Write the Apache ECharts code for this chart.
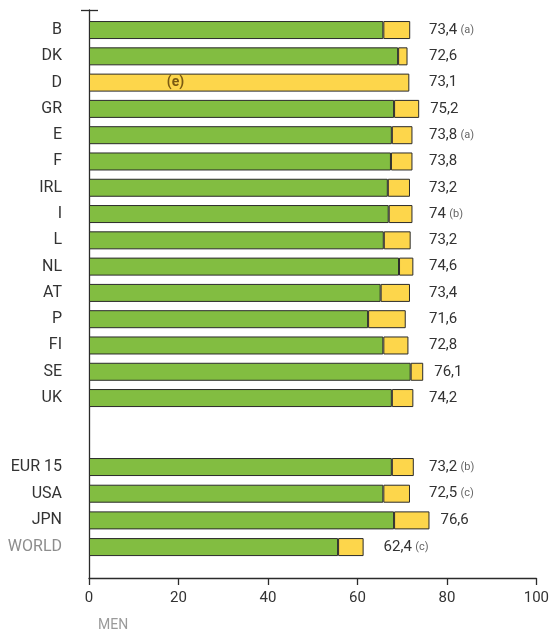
<!DOCTYPE html>
<html>
<head>
<meta charset="utf-8">
<script src="https://cdn.jsdelivr.net/npm/echarts@6/dist/echarts.min.js"></script>
<style>html,body{margin:0;padding:0;background:#fff}#c{width:552px;height:640px}</style>
</head>
<body>
<div id="c"></div>
<script>
// ---- data ----
const countries = ['B','DK','D','GR','E','F','IRL','I','L','NL','AT','P','FI','SE','UK'];
const countryGreen = [65.7, 69.0, '-', 68.1, 67.6, 67.4, 66.7, 66.9, 65.8, 69.2, 65.1, 62.3, 65.7, 71.8, 67.6];
const countryYellow = [6.0, 2.1, 71.5, 5.6, 4.6, 4.8, 4.95, 5.3, 6.0, 3.2, 6.55, 8.4, 5.6, 2.8, 4.8];
const countryTotals = ['73,4','72,6','73,1','75,2','73,8','73,8','73,2','74','73,2','74,6','73,4','71,6','72,8','76,1','74,2'];
const countryNotes = ['(a)','','','','(a)','','','(b)','','','','','','',''];
const regions = ['EUR 15','USA','JPN','WORLD'];
const regionGreen = [67.6, 65.7, 68.1, 55.6];
const regionYellow = [4.9, 5.95, 7.9, 5.7];
const regionTotals = ['73,2','72,5','76,6','62,4'];
const regionNotes = ['(b)','(c)','','(c)'];
const noteD = { category: 'D', x: 19.3, text: '(e)' };
const xMin = 0, xMax = 100, xInterval = 20;
const axisTitle = 'MEN';

// ---- layout ----
const L = 89, R = 15;
const gridW = 552 - L - R;
const ppu = gridW / (xMax - xMin);
const labelCol = 429;
const GREEN = '#82bd41', YELLOW = '#fdd64b', EDGE = '#2b2b2b', TXT = '#333';

function yellowItems(green, yellow, totals, notes) {
  return yellow.map((v, i) => {
    const g = green[i] === '-' ? 0 : green[i];
    const endPx = L + (g + v) * ppu;
    const dist = (g + v) < 65 ? 20 : Math.max(11, labelCol - endPx);
    return {
      value: v,
      label: {
        distance: dist,
        formatter: notes[i] ? '{v|' + totals[i] + '} {n|' + notes[i] + '}' : '{v|' + totals[i] + '}'
      }
    };
  });
}

const barCommon = {
  type: 'bar',
  barWidth: 18,
  itemStyle: { borderColor: EDGE, borderWidth: 1 },
  emphasis: { disabled: true },
  animation: false
};
const valLabel = {
  show: true, position: 'right',
  rich: {
    v: { fontSize: 15, color: TXT, fontFamily: 'Roboto' },
    n: { fontSize: 11, color: '#666', fontFamily: 'Roboto' }
  }
};
const catLabel = {
  fontSize: 16, fontFamily: 'Roboto', margin: 27,
  color: (v) => v === 'WORLD' ? '#8d8d8d' : TXT
};

const chart = echarts.init(document.getElementById('c'), null, { renderer: 'canvas' });
chart.setOption({
  animation: false,
  title: { text: axisTitle, left: 93, top: 613, textStyle: { fontSize: 14, fontWeight: 'normal', color: '#9a9a9a', fontFamily: 'Roboto' } },
  grid: [
    { left: L, right: R, top: 10, bottom: 62 },
    { left: L, width: gridW, top: 16.9, height: 394.3 },
    { left: L, width: gridW, top: 453.7, height: 106.7 }
  ],
  xAxis: [
    { gridIndex: 0, type: 'value', min: xMin, max: xMax, interval: xInterval,
      axisLine: { show: true, lineStyle: { color: EDGE, width: 1.3 } },
      axisTick: { show: true, length: 7, lineStyle: { color: EDGE, width: 1.3 } },
      axisLabel: { fontSize: 15, color: TXT, fontFamily: 'Roboto', margin: 13 },
      splitLine: { show: false } },
    { gridIndex: 1, type: 'value', min: xMin, max: xMax, show: false },
    { gridIndex: 2, type: 'value', min: xMin, max: xMax, show: false }
  ],
  yAxis: [
    { gridIndex: 0, type: 'value', position: 'left', min: 0, max: 1, interval: 1,
      axisLine: { show: true, lineStyle: { color: EDGE, width: 1.3 } },
      axisTick: { show: true, length: 8, customValues: [1], lineStyle: { color: EDGE, width: 1.3 } },
      axisLabel: { show: false }, splitLine: { show: false } },
    { gridIndex: 0, type: 'value', position: 'left', offset: 0, min: 0, max: 1, interval: 1,
      axisLine: { show: false },
      axisTick: { show: true, inside: true, length: 9, customValues: [1], lineStyle: { color: EDGE, width: 1.3 } },
      axisLabel: { show: false }, splitLine: { show: false } },
    { gridIndex: 1, type: 'category', data: countries, inverse: true,
      axisLine: { show: false }, axisTick: { show: false }, axisLabel: catLabel },
    { gridIndex: 2, type: 'category', data: regions, inverse: true,
      axisLine: { show: false }, axisTick: { show: false }, axisLabel: catLabel }
  ],
  series: [
    Object.assign({}, barCommon, { name: 'healthy', xAxisIndex: 1, yAxisIndex: 2, stack: 'a',
      data: countryGreen, itemStyle: Object.assign({}, barCommon.itemStyle, { color: GREEN }) }),
    Object.assign({}, barCommon, { name: 'rest', xAxisIndex: 1, yAxisIndex: 2, stack: 'a',
      data: yellowItems(countryGreen, countryYellow, countryTotals, countryNotes),
      itemStyle: Object.assign({}, barCommon.itemStyle, { color: YELLOW }),
      label: valLabel,
      markPoint: {
        symbol: 'circle', symbolSize: 1, itemStyle: { color: 'rgba(0,0,0,0)' },
        data: [{ coord: [noteD.x, noteD.category] }],
        label: { show: true, position: 'inside', formatter: noteD.text, fontSize: 14, fontWeight: 'bold', color: '#7a5a12', fontFamily: 'Roboto' }
      } }),
    Object.assign({}, barCommon, { name: 'healthy', xAxisIndex: 2, yAxisIndex: 3, stack: 'b',
      data: regionGreen, itemStyle: Object.assign({}, barCommon.itemStyle, { color: GREEN }) }),
    Object.assign({}, barCommon, { name: 'rest', xAxisIndex: 2, yAxisIndex: 3, stack: 'b',
      data: yellowItems(regionGreen, regionYellow, regionTotals, regionNotes),
      itemStyle: Object.assign({}, barCommon.itemStyle, { color: YELLOW }),
      label: valLabel })
  ]
});
</script>
</body>
</html>
